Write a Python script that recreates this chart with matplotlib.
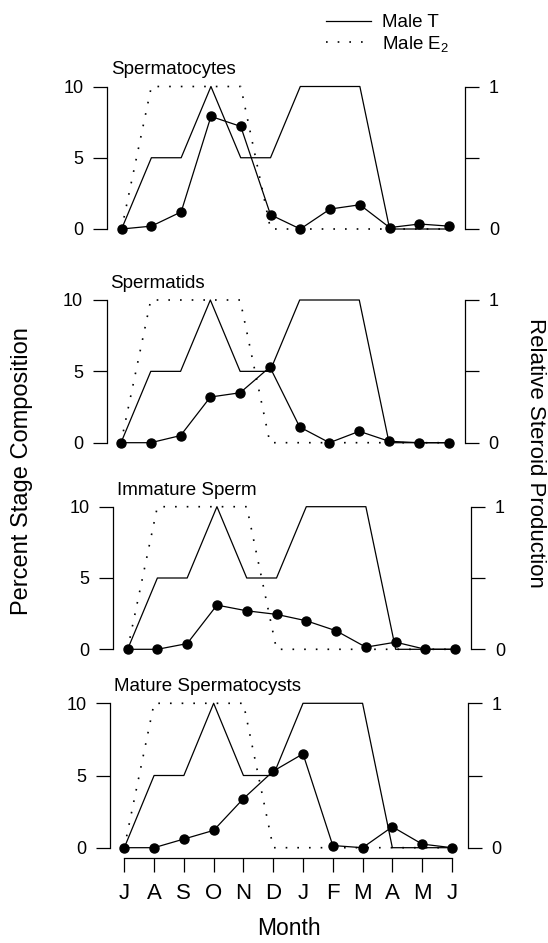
import matplotlib
matplotlib.use("Agg")
import matplotlib.pyplot as plt
from matplotlib.lines import Line2D

plt.rcParams['font.family'] = ['Liberation Sans', 'DejaVu Sans']
plt.rcParams['mathtext.default'] = 'regular'

# data
months = ["J", "A", "S", "O", "N", "D", "J", "F", "M", "A", "M", "J"]
male_t = [0, 0.5, 0.5, 1, 0.5, 0.5, 1, 1, 1, 0, 0, 0]
male_e2 = [0, 1, 1, 1, 1, 0, 0, 0, 0, 0, 0, 0]

panel_titles = ["Spermatocytes", "Spermatids", "Immature Sperm", "Mature Spermatocysts"]
spermatocytes = [0, 0.2, 1.2, 7.9, 7.2, 1.0, 0, 1.4, 1.7, 0.1, 0.35, 0.2]
spermatids = [0, 0, 0.5, 3.2, 3.5, 5.3, 1.1, 0, 0.8, 0.1, 0, 0]
immature_sperm = [0, 0, 0.4, 3.1, 2.7, 2.45, 2.0, 1.3, 0.15, 0.5, 0, 0]
mature_spermatocysts = [0, 0, 0.6, 1.2, 3.4, 5.3, 6.5, 0.15, 0.0, 1.45, 0.25, 0]
stage_series = [spermatocytes, spermatids, immature_sperm, mature_spermatocysts]

W, H = 548, 943
fig = plt.figure(figsize=(W / 100, H / 100), dpi=100)

# panel boxes in pixels: left edge, y of "10", y of "0"
boxes = [(107.3, 86.5, 229.0), (106.7, 300.0, 442.7),
         (113.3, 506.7, 649.3), (110.0, 703.3, 847.7)]
box_w = 358.0
x = list(range(len(months)))

for i, (left, top, bot) in enumerate(boxes):
    ax = fig.add_axes([left / W, 1 - bot / H, box_w / W, (bot - top) / H])
    ax2 = ax.twinx()

    ax2.plot(x, male_t, color='black', lw=0.9, clip_on=False)
    ax2.plot(x, male_e2, color='black', lw=1.2, linestyle=(0, (1, 6)),
             clip_on=False)
    ax.plot(x, stage_series[i], color='black', lw=0.9, marker='o',
            markersize=6.5, clip_on=False, zorder=5)
    ax.set_zorder(ax2.get_zorder() + 1)
    ax.patch.set_visible(False)

    for a in (ax, ax2):
        a.set_xlim(-0.48, 11.54)
        a.spines['top'].set_visible(False)
    ax.set_ylim(0, 10)
    ax2.set_ylim(0, 1)

    ax.spines['right'].set_visible(False)
    ax2.spines['left'].set_visible(False)
    ax.spines['left'].set_bounds(0, 10)
    ax2.spines['right'].set_bounds(0, 1)
    ax.spines['left'].set_linewidth(0.9)
    ax2.spines['right'].set_linewidth(0.9)
    ax2.spines['bottom'].set_visible(False)

    ax.set_yticks([0, 5, 10])
    ax.tick_params(axis='y', direction='out', length=10, width=0.9,
                   pad=7, labelsize=13)
    ax2.set_yticks([0, 0.5, 1])
    ax2.set_yticklabels(['0', '', '1'])
    ax2.tick_params(axis='y', direction='out', length=10, width=0.9,
                    pad=7, labelsize=13)

    ax.text(0.01, 1 + 12 / (bot - top), panel_titles[i],
            transform=ax.transAxes, fontsize=13.5, va='baseline', ha='left')

    if i == len(boxes) - 1:
        ax.spines['bottom'].set_position(('outward', 7.6))
        ax.spines['bottom'].set_bounds(0, 11)
        ax.spines['bottom'].set_linewidth(0.9)
        ax.set_xticks(x)
        ax.set_xticklabels(months)
        ax.tick_params(axis='x', direction='out', length=10, width=0.9,
                       pad=8, labelsize=16)
        ax.set_xlabel("Month", fontsize=16.5, labelpad=9)
    else:
        ax.spines['bottom'].set_visible(False)
        ax.tick_params(axis='x', bottom=False, labelbottom=False)

fig.text(22 / W, 1 - 471 / H, "Percent Stage Composition", rotation=90,
         fontsize=17, ha='center', va='center')
fig.text(536 / W, 1 - 453 / H, "Relative Steroid Production", rotation=270,
         fontsize=16, ha='center', va='center')

handles = [Line2D([], [], color='black', lw=0.9),
           Line2D([], [], color='black', lw=1.2, linestyle=(0, (1, 6)))]
fig.legend(handles, ["Male T", r"Male E$_{2}$"], loc='upper left',
           bbox_to_anchor=(326 / W, 1 - 14 / H), frameon=False,
           fontsize=13.5, handlelength=2.4, handletextpad=0.6,
           labelspacing=0.15, borderpad=0, borderaxespad=0)

fig.savefig("out.png", dpi=100)
